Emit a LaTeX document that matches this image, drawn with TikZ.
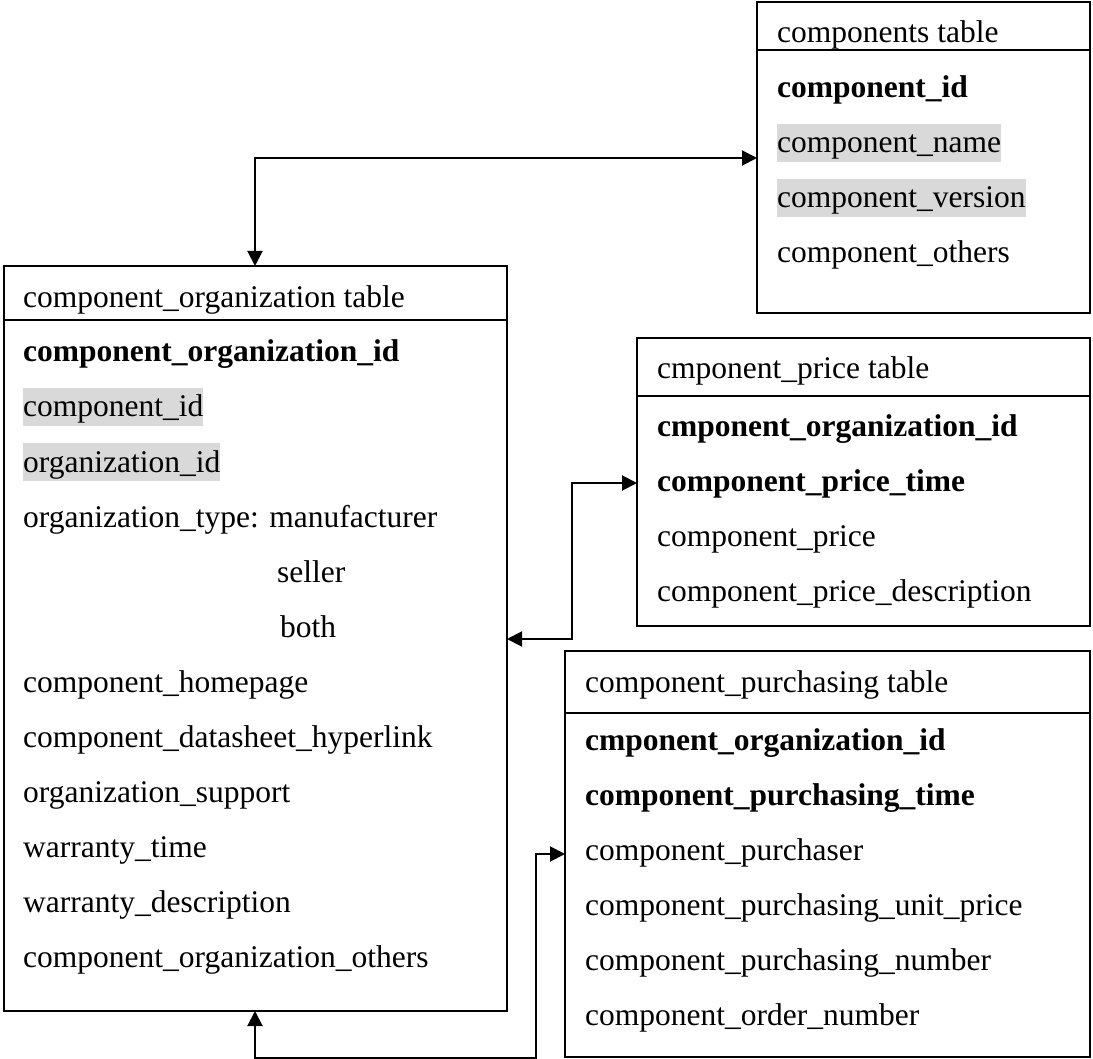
\documentclass[tikz,border=0pt]{standalone}
\usepackage{fontspec}
\setmainfont{Liberation Serif}
\usetikzlibrary{arrows.meta}
\begin{document}
\begin{tikzpicture}[x=1pt,y=-1pt,
  tbl/.style={draw,line width=2pt,anchor=north west,inner sep=0pt,outer sep=0pt},
  sepline/.style={line width=2pt},
  fld/.style={anchor=base west,inner sep=0pt,font=\fontsize{31.5}{38}\selectfont},
  key/.style={fld,font=\fontsize{31.5}{38}\selectfont\bfseries},
  hl/.style={fld,fill=black!15,text height=29pt,text depth=9pt},
  link/.style={line width=2pt,{Triangle[length=15pt,width=15pt]}-{Triangle[length=15pt,width=15pt]}}]
\useasboundingbox (0,0) rectangle (1093,1059);

% table frames
\node[tbl,minimum width=333pt,minimum height=311pt] (comp) at (757,2) {};
\node[tbl,minimum width=503pt,minimum height=745pt] (org) at (4,266) {};
\node[tbl,minimum width=453pt,minimum height=288pt] (price) at (637,338) {};
\node[tbl,minimum width=525pt,minimum height=406pt] (purch) at (565,651) {};

% header separators
\draw[sepline] ([yshift=-48pt]comp.north west) -- ([yshift=-48pt]comp.north east);
\draw[sepline] ([yshift=-54pt]org.north west) -- ([yshift=-54pt]org.north east);
\draw[sepline] ([yshift=-58pt]price.north west) -- ([yshift=-58pt]price.north east);
\draw[sepline] ([yshift=-62pt]purch.north west) -- ([yshift=-62pt]purch.north east);

% components table
\node[fld] (c0) at (777,43) {components table};
\node[key] (c1) at (777,98) {component\_id};
\node[hl]  (c2) at (777,153) {component\_name};
\node[hl]  (c3) at (777,208) {component\_version};
\node[fld] (c4) at (777,263) {component\_others};

% component_organization table
\node[fld] (o0) at (23,308) {component\_organization table};
\node[key] (o1) at (23,362) {component\_organization\_id};
\node[hl]  (o2) at (23,417) {component\_id};
\node[hl]  (o3) at (23,472) {organization\_id};
\node[fld] (o4) at (23,527) {organization\_type: manufacturer};
\node[fld] (o5) at (277,582) {seller};
\node[fld] (o6) at (280,637) {both};
\node[fld] (o7) at (23,692) {component\_homepage};
\node[fld] (o8) at (23,747) {component\_datasheet\_hyperlink};
\node[fld] (o9) at (23,802) {organization\_support};
\node[fld] (o10) at (23,857) {warranty\_time};
\node[fld] (o11) at (23,912) {warranty\_description};
\node[fld] (o12) at (23,967) {component\_organization\_others};

% cmponent_price table
\node[fld] (p0) at (657,379) {cmponent\_price table};
\node[key] (p1) at (657,436) {cmponent\_organization\_id};
\node[key] (p2) at (657,491) {component\_price\_time};
\node[fld] (p3) at (657,546) {component\_price};
\node[fld] (p4) at (657,601) {component\_price\_description};

% component_purchasing table
\node[fld] (u0) at (585,692) {component\_purchasing table};
\node[key] (u1) at (585,750) {cmponent\_organization\_id};
\node[key] (u2) at (585,805) {component\_purchasing\_time};
\node[fld] (u3) at (585,860) {component\_purchaser};
\node[fld] (u4) at (585,915) {component\_purchasing\_unit\_price};
\node[fld] (u5) at (585,970) {component\_purchasing\_number};
\node[fld] (u6) at (585,1025) {component\_order\_number};

% relationships
\draw[link] ([xshift=251pt]org.north west) |- ([yshift=-156pt]comp.north west);
\draw[link] ([yshift=-373pt]org.north east) -- ++(65,0) |- ([yshift=-145pt]price.north west);
\coordinate (bend) at (536,1058);
\draw[link] ([xshift=251pt]org.south west) |- (bend) |- ([yshift=-203pt]purch.north west);
\end{tikzpicture}
\end{document}
